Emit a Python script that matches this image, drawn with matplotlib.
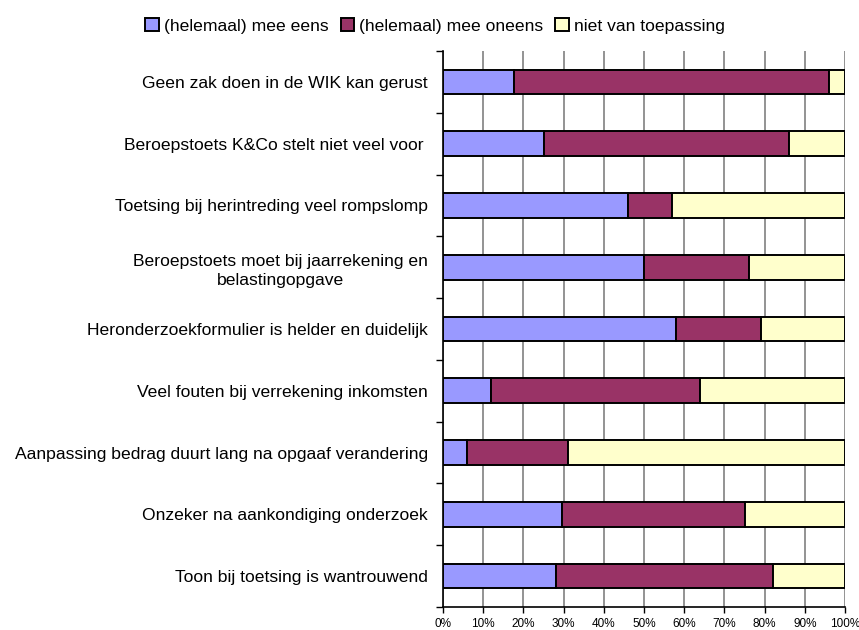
import numpy as np
import matplotlib.pyplot as plt
from matplotlib.ticker import MultipleLocator, FuncFormatter

plt.rcParams['font.family'] = ['Liberation Sans', 'DejaVu Sans']

# stellingen (van boven naar beneden)
stellingen = [
    "Geen zak doen in de WIK kan gerust",
    "Beroepstoets K&Co stelt niet veel voor ",
    "Toetsing bij herintreding veel rompslomp",
    "Beroepstoets moet bij jaarrekening en\nbelastingopgave",
    "Heronderzoekformulier is helder en duidelijk",
    "Veel fouten bij verrekening inkomsten",
    "Aanpassing bedrag duurt lang na opgaaf verandering",
    "Onzeker na aankondiging onderzoek",
    "Toon bij toetsing is wantrouwend",
]

# percentages per antwoordcategorie
mee_eens = [17.7, 25.0, 46.0, 50.0, 58.0, 12.0, 6.0, 29.7, 28.0]
mee_oneens = [78.3, 61.0, 11.0, 26.0, 21.0, 52.0, 25.0, 45.5, 54.0]
niet_van_toepassing = [4.0, 14.0, 43.0, 24.0, 21.0, 36.0, 69.0, 24.8, 18.0]

reeksen = ["(helemaal) mee eens", "(helemaal) mee oneens", "niet van toepassing"]
kleuren = ["#9999FF", "#993366", "#FFFFCC"]

fig = plt.figure(figsize=(8.59, 6.3), dpi=100)
ax = fig.add_axes([443 / 859, 1 - 607 / 630, 402 / 859, 556 / 630])

y = np.arange(len(stellingen))
links = np.zeros(len(stellingen))
for naam, waarden, kleur in zip(reeksen, [mee_eens, mee_oneens, niet_van_toepassing], kleuren):
    ax.barh(y, waarden, left=links, height=0.4, color=kleur, edgecolor='black',
            linewidth=1.4, label=naam, zorder=3)
    links += np.array(waarden)

ax.set_xlim(0, 100)
ax.set_ylim(len(stellingen) - 0.5, -0.5)

# verticale rasterlijnen
ax.xaxis.set_major_locator(MultipleLocator(10))
ax.xaxis.set_major_formatter(FuncFormatter(lambda v, p: f"{int(round(v))}%"))
ax.grid(axis='x', color='#808080', linewidth=1.2, zorder=0)
ax.tick_params(axis='x', length=4, width=1, labelsize=8.5, pad=4)

ax.set_yticks(y)
ax.set_yticklabels(stellingen, fontsize=12.6, ha='right', multialignment='center',
                   linespacing=1.35)
ax.tick_params(axis='y', which='major', length=0, pad=10.8)
ax.set_yticks(np.arange(-0.5, len(stellingen)), minor=True)
ax.tick_params(axis='y', which='minor', length=5, width=1)

for s in ['top', 'right']:
    ax.spines[s].set_visible(False)
ax.spines['left'].set_linewidth(1.2)
ax.spines['bottom'].set_linewidth(1.2)

fig.legend(loc='center', bbox_to_anchor=(435 / 859, 1 - 26 / 630), ncol=3, frameon=False,
           fontsize=12.6, handlelength=0.75, handleheight=0.75, handletextpad=0.3,
           columnspacing=0.7, borderaxespad=0)

fig.savefig("out.png", dpi=100)
